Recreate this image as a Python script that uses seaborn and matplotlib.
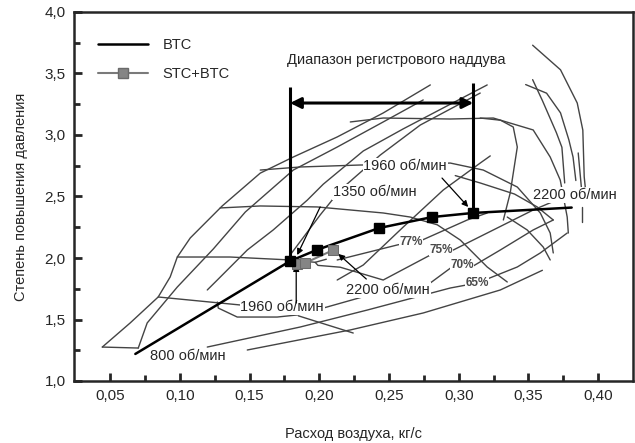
import matplotlib
matplotlib.use('Agg')
import matplotlib.pyplot as plt
import seaborn as sns
import pandas as pd
from matplotlib.lines import Line2D

# ---------------- axes / text ----------------
X_LIM = (0.024, 0.425)
Y_LIM = (1.0, 4.0)
XTICKS = [0.05, 0.10, 0.15, 0.20, 0.25, 0.30, 0.35, 0.40]
XTICK_LABELS = ['0,05', '0,10', '0,15', '0,20', '0,25', '0,30', '0,35', '0,40']
XMINOR = [0.075, 0.125, 0.175, 0.225, 0.275, 0.325, 0.375]
YTICKS = [1.0, 1.5, 2.0, 2.5, 3.0, 3.5, 4.0]
YTICK_LABELS = ['1,0', '1,5', '2,0', '2,5', '3,0', '3,5', '4,0']
YMINOR = [1.25, 1.75, 2.25, 2.75, 3.25, 3.75]
X_LABEL = 'Расход воздуха, кг/с'
Y_LABEL = 'Степень повышения давления'

# ---------------- series ----------------
BTC_X = [0.068, 0.179, 0.198, 0.243, 0.281, 0.310, 0.381]
BTC_Y = [1.22, 1.975, 2.065, 2.244, 2.333, 2.366, 2.41]
BTC_MARK_X = [0.179, 0.198, 0.243, 0.281, 0.310]
BTC_MARK_Y = [1.975, 2.065, 2.244, 2.333, 2.366]
STC_X = [0.1841, 0.1899, 0.2100]
STC_Y = [1.955, 1.960, 2.065]

# register range
REG_LO, REG_HI = 0.179, 0.3104
REG_LO_Y = (1.975, 3.39)
REG_HI_Y = (2.366, 3.423)
REG_ARROW_Y = 3.26

# ---------------- compressor map (grey background curves) ----------------
surge = [(0.0443, 1.276), (0.0643, 1.472), (0.0844, 1.683), (0.093, 1.846), (0.0981, 2.008),
         (0.1074, 2.163), (0.1303, 2.423), (0.1576, 2.69), (0.1813, 2.821), (0.2128, 2.984),
         (0.2458, 3.179), (0.2796, 3.407)]
diag2 = [(0.0701, 1.268), (0.0765, 1.472), (0.0981, 1.764), (0.1239, 2.073), (0.1469, 2.374),
         (0.1813, 2.715), (0.2128, 2.902), (0.2458, 3.106), (0.2745, 3.285)]
diag3 = [(0.1196, 1.74), (0.1268, 1.821), (0.1483, 2.065), (0.1669, 2.228), (0.1913, 2.47),
         (0.2028, 2.60), (0.2315, 2.87), (0.2602, 3.05), (0.2939, 3.25), (0.3204, 3.407)]
diag4 = [(0.1791, 2.025), (0.2006, 2.35), (0.215, 2.553), (0.2437, 2.837), (0.2724, 3.081),
         (0.3154, 3.341)]
diag5 = [(0.2128, 1.821), (0.2315, 1.943), (0.2602, 2.252), (0.2889, 2.553), (0.3154, 2.772),
         (0.3226, 2.83)]
eff77 = [(0.2128, 1.984), (0.2559, 2.106), (0.266, 2.13), (0.2738, 2.146), (0.3061, 2.309),
         (0.3204, 2.366)]
eff75 = [(0.205, 1.99), (0.197, 1.965), (0.199, 1.94), (0.215, 1.925), (0.2458, 1.821),
         (0.2796, 2.024), (0.2875, 2.065), (0.2961, 2.065), (0.3204, 2.203), (0.3534, 2.39),
         (0.37, 2.47)]
eff70 = [(0.1268, 1.642), (0.1275, 1.593), (0.1411, 1.52), (0.1698, 1.52), (0.1841, 1.537),
         (0.205, 1.60), (0.23, 1.68), (0.2796, 1.797), (0.2961, 1.935), (0.3104, 1.935),
         (0.3298, 2.065), (0.3534, 2.228), (0.3678, 2.309)]
eff65 = [(0.1196, 1.276), (0.1863, 1.439), (0.2344, 1.577), (0.2939, 1.756), (0.3133, 1.797),
         (0.342, 1.927), (0.3585, 2.041), (0.3778, 2.203)]
eff60 = [(0.1483, 1.252), (0.2222, 1.415), (0.2745, 1.553), (0.3298, 1.74), (0.36, 1.90)]
drop1 = [(0.1849, 1.53), (0.2243, 1.39)]
speed800 = [(0.0443, 1.276), (0.0701, 1.268)]
speed_a = [(0.0844, 1.683), (0.1433, 1.618), (0.1734, 1.60)]
speed_b = [(0.0981, 2.008), (0.136, 2.008), (0.1791, 1.984), (0.197, 1.965)]
speed_c = [(0.1289, 2.407), (0.1576, 2.423), (0.1985, 2.415), (0.2458, 2.366), (0.2652, 2.333),
           (0.2846, 2.27), (0.3011, 2.146), (0.3204, 1.927), (0.3348, 1.805)]
speed_d = [(0.1576, 2.715), (0.1863, 2.74), (0.2293, 2.756), (0.2616, 2.76), (0.2939, 2.772),
           (0.3176, 2.715), (0.342, 2.577), (0.3585, 2.366), (0.3656, 2.203), (0.3678, 2.041)]
speed_e = [(0.2222, 3.106), (0.2458, 3.138), (0.2939, 3.13), (0.3248, 3.138), (0.3534, 3.041),
           (0.3656, 2.821), (0.3728, 2.634), (0.3778, 2.333), (0.3786, 2.203)]
arc_e = [(0.3154, 3.138), (0.33, 3.12), (0.3391, 3.065), (0.342, 2.902), (0.3369, 2.528),
         (0.332, 2.309)]
arc_g = [(0.2975, 2.67), (0.3154, 2.61), (0.34, 2.52), (0.3563, 2.415), (0.3678, 2.309)]
arc_h = [(0.3348, 2.333), (0.3491, 2.228), (0.3606, 2.089), (0.3656, 1.984)]
arc_b = [(0.353, 3.73), (0.373, 3.53), (0.385, 3.26), (0.389, 3.04), (0.390, 2.66), (0.391, 2.55)]
arc_c = [(0.348, 3.41), (0.363, 3.34), (0.373, 3.18), (0.379, 2.96), (0.382, 2.82), (0.384, 2.63)]
arc_d = [(0.353, 3.45), (0.36, 3.28), (0.37, 3.02), (0.374, 2.90), (0.376, 2.61)]
vert1 = [(0.3857, 2.854), (0.3886, 2.496)]
vert2 = [(0.3886, 2.415), (0.3886, 2.29)]

MAP_CURVES = [surge, diag2, diag3, diag4, diag5, eff77, eff75, eff70, eff65, eff60, drop1,
              speed800, speed_a, speed_b, speed_c, speed_d, speed_e, arc_e, arc_g, arc_h,
              arc_b, arc_c, arc_d, vert1, vert2]

# ---------------- annotations ----------------
RPM_LABELS = ['1960 об/мин', '1350 об/мин', '2200 об/мин', '1960 об/мин', '2200 об/мин', '800 об/мин']
RPM_X = [0.2616, 0.240, 0.3836, 0.1734, 0.2494, 0.106]
RPM_Y = [2.748, 2.537, 2.512, 1.600, 1.740, 1.203]
EFF_LABELS = ['77%', '75%', '70%', '65%']
EFF_X = [0.266, 0.2875, 0.3025, 0.3133]
EFF_Y = [2.13, 2.065, 1.943, 1.797]
ARROW_FROM = [(0.288, 2.65), (0.2006, 2.415), (0.1834, 1.634), (0.2337, 1.829)]
ARROW_TO = [(0.3068, 2.415), (0.1841, 2.024), (0.1834, 1.943), (0.2136, 2.033)]
RANGE_TEXT = 'Диапазон регистрового наддува'
RANGE_TEXT_XY = (0.255, 3.61)

# ---------------- drawing ----------------
sns.set_style('ticks')
FONT = ['Liberation Sans', 'DejaVu Sans']
plt.rcParams['font.family'] = FONT
FS = 10.5

fig = plt.figure(figsize=(6.35, 4.43), dpi=100)
ax = fig.add_axes([74 / 635, 1 - 381 / 443, (633 - 74) / 635, (381 - 12) / 443])

rows = []
for cid, curve in enumerate(MAP_CURVES):
    for k, (x, y) in enumerate(curve):
        rows.append({'curve': cid, 'k': k, 'x': x, 'y': y})
map_df = pd.DataFrame(rows)
sns.lineplot(data=map_df, x='x', y='y', units='curve', estimator=None, sort=False,
             color='#444444', linewidth=1.0, ax=ax, zorder=1, legend=False)

btc_df = pd.DataFrame({'x': BTC_X, 'y': BTC_Y})
sns.lineplot(data=btc_df, x='x', y='y', sort=False, color='black', linewidth=1.8, ax=ax, zorder=5)
ax.plot(BTC_MARK_X, BTC_MARK_Y, linestyle='none', marker='s', markersize=6.5,
        color='black', zorder=6)
stc_df = pd.DataFrame({'x': STC_X, 'y': STC_Y})
sns.lineplot(data=stc_df, x='x', y='y', sort=False, color='#7a7a7a', linewidth=1.5,
             marker='s', markersize=6.5, markerfacecolor='#858585', markeredgecolor='#6a6a6a',
             ax=ax, zorder=5)

# register range frame
ax.plot([REG_LO, REG_LO], REG_LO_Y, color='black', lw=2.2, zorder=4, solid_capstyle='butt')
ax.plot([REG_HI, REG_HI], REG_HI_Y, color='black', lw=2.2, zorder=4, solid_capstyle='butt')
ax.annotate('', xy=(REG_HI, REG_ARROW_Y), xytext=(REG_LO, REG_ARROW_Y),
            arrowprops=dict(arrowstyle='<|-|>', lw=2.2, color='black', mutation_scale=16,
                            shrinkA=0, shrinkB=0), zorder=4)
ax.text(*RANGE_TEXT_XY, RANGE_TEXT, ha='center', va='center', fontsize=FS, zorder=4)

box = dict(facecolor='white', edgecolor='none', pad=0.6)
for t, x, y in zip(RPM_LABELS, RPM_X, RPM_Y):
    ax.text(x, y, t, ha='center', va='center', fontsize=FS, bbox=box, zorder=3)
for t, x, y in zip(EFF_LABELS, EFF_X, EFF_Y):
    ax.text(x, y, t, ha='center', va='center', fontsize=8.5, fontweight='bold',
            color='#4a4a4a', bbox=dict(facecolor='white', edgecolor='none', pad=0.2), zorder=3)
for (x0, y0), (x1, y1) in zip(ARROW_FROM, ARROW_TO):
    ax.annotate('', xy=(x1, y1), xytext=(x0, y0),
                arrowprops=dict(arrowstyle='-|>', lw=0.9, color='black', mutation_scale=9,
                                shrinkA=0, shrinkB=0), zorder=4)

# axes styling
ax.set_xlim(*X_LIM)
ax.set_ylim(*Y_LIM)
ax.set_xticks(XTICKS, XTICK_LABELS)
ax.set_yticks(YTICKS, YTICK_LABELS)
ax.set_xticks(XMINOR, minor=True)
ax.set_yticks(YMINOR, minor=True)
ax.tick_params(which='major', direction='in', length=6, width=2, labelsize=11, pad=6)
ax.tick_params(which='minor', direction='in', length=4, width=2)
for s in ax.spines.values():
    s.set_visible(True)
    s.set_linewidth(1.8)
ax.set_xlabel(X_LABEL, fontsize=FS, labelpad=17)
ax.set_ylabel(Y_LABEL, fontsize=FS, labelpad=12)

handles = [Line2D([], [], color='black', lw=1.8),
           Line2D([], [], color='#7a7a7a', lw=1.5, marker='s', markersize=6.5,
                  markerfacecolor='#858585', markeredgecolor='#6a6a6a')]
ax.legend(handles, ['BTC', 'STC+BTC'], loc='upper left', bbox_to_anchor=(0.033, 0.945),
          frameon=False, handlelength=3.4, handletextpad=1.0, labelspacing=1.0,
          fontsize=FS, borderaxespad=0)

fig.savefig('out.png', dpi=100)
